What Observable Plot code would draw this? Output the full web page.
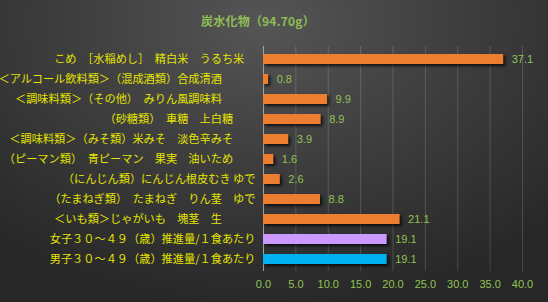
<!DOCTYPE html>
<html><head><meta charset="utf-8">
<script src="https://cdn.jsdelivr.net/npm/d3@7"></script>
<script src="https://cdn.jsdelivr.net/npm/@observablehq/plot@0.6"></script>
<style>
body{margin:0;background:#262626;}
#chart{width:548px;height:302px;position:relative;overflow:hidden;
  background:radial-gradient(ellipse 75% 95% at 48% 8%, #555555 0%, #3d3d3d 50%, #272727 100%);
  font-family:"Noto Sans CJK JP","Noto Sans",sans-serif;}
#title{position:absolute;top:12px;left:0;width:516px;text-align:center;color:#8fbd56;font-size:12px;font-weight:bold;letter-spacing:0.2px;}
#plot{position:absolute;top:36px;left:0;}
</style>
</head><body>
<div id="chart"><div id="title">炭水化物（94.70g）</div><div id="plot"></div></div>
<script>
const titleText = "炭水化物（94.70g）";
const categories = [
  "こめ　［水稲めし］　精白米　うるち米　",
  "＜アルコール飲料類＞（混成酒類）合成清酒　　　",
  "＜調味料類＞（その他）　みりん風調味料　　　",
  "（砂糖類）　車糖　上白糖　　",
  "＜調味料類＞（みそ類）米みそ　淡色辛みそ　　",
  "（ピーマン類）　青ピーマン　果実　油いため　　",
  "（にんじん類）にんじん根皮むき ゆで",
  "（たまねぎ類）　たまねぎ　りん茎　ゆで",
  "＜いも類＞じゃがいも　塊茎　生　　　",
  "女子３０～４９（歳）推進量/１食あたり",
  "男子３０～４９（歳）推進量/１食あたり"
];
const values = [37.1, 0.8, 9.9, 8.9, 3.9, 1.6, 2.6, 8.8, 21.1, 19.1, 19.1];
const barColors = ["#ed7d31","#ed7d31","#ed7d31","#ed7d31","#ed7d31","#ed7d31","#ed7d31","#ed7d31","#ed7d31","#cc99ff","#00b0f0"];
const xTicks = [0, 5, 10, 15, 20, 25, 30, 35, 40];

const data = categories.map((name, i) => ({name, value: values[i], color: barColors[i]}));

const chart = Plot.plot({
  width: 548, height: 266,
  marginLeft: 263, marginRight: 26, marginTop: 10, marginBottom: 31,
  style: {background: "transparent", fontFamily: "'Noto Sans CJK JP', sans-serif", fontSize: "11.2px", overflow: "visible"},
  x: {domain: [0, 40], label: null},
  y: {domain: categories, paddingInner: 0.5, paddingOuter: 0.25, label: null},
  color: {type: "identity"},
  marks: [
    Plot.gridX(xTicks.slice(1), {stroke: "#ffffff", strokeOpacity: 0.16}),
    Plot.ruleX([0], {stroke: "#a0a0a0", strokeWidth: 1}),
    Plot.barX(data, {x: "value", y: "name", fill: "color"}),
    Plot.text(data, {x: "value", y: "name", text: d => d.value.toFixed(1), textAnchor: "start", dx: 8, fill: "#92c353",
      fontFamily: "'Liberation Sans', sans-serif", fontSize: 11}),
    Plot.axisX(xTicks, {tickSize: 0, tickPadding: 9, tickFormat: d => d.toFixed(1), fill: "#92c353", label: null,
      fontFamily: "'Liberation Sans', sans-serif", fontSize: 11}),
    Plot.axisY({tickSize: 0, tickPadding: 8, fill: "#e4e400", label: null})
  ]
});
document.getElementById("plot").appendChild(chart);
chart.querySelectorAll('g[aria-label="bar"]').forEach(g => {
  g.style.filter = "drop-shadow(2px 2px 1.5px rgba(0,0,0,0.75))";
});
</script>
</body></html>
